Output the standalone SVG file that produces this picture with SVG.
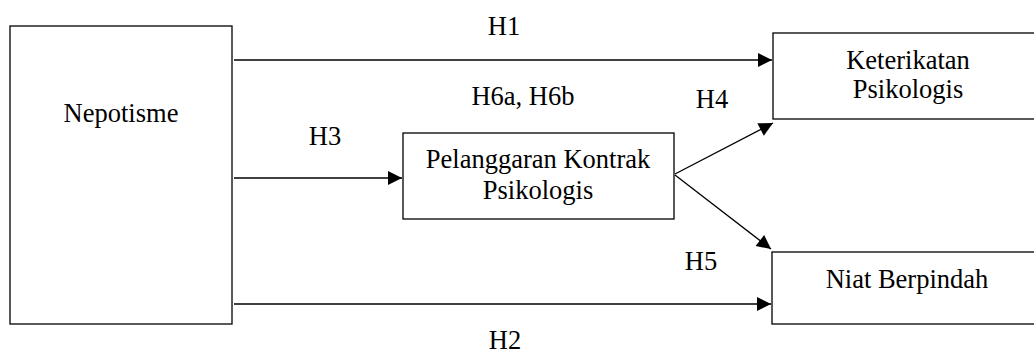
<svg xmlns="http://www.w3.org/2000/svg" width="1034" height="353" viewBox="0 0 1034 353">
<style>
.box{fill:#fff;stroke:#000;stroke-width:1.3}
.lbl{font-family:'Liberation Serif','Times New Roman',serif;font-size:26.5px;fill:#000;text-anchor:middle}
.edge{stroke:#000;stroke-width:1.3;fill:none}
</style>
<defs>
<marker id="arr" markerUnits="userSpaceOnUse" markerWidth="16" markerHeight="16" viewBox="0 0 16 16" refX="15" refY="8" orient="auto">
<path d="M1,1 L15,8 L1,15 Z" fill="#000"/>
</marker>
</defs>
<rect width="1034" height="353" fill="#fff"/>
<g id="nepotisme">
<rect class="box" x="10" y="26" width="222" height="298"/>
<text class="lbl" x="121" y="122">Nepotisme</text>
</g>
<g id="keterikatan">
<rect class="box" x="773" y="33" width="270" height="86"/>
<text class="lbl" x="908" y="69">Keterikatan</text>
<text class="lbl" x="908" y="98">Psikologis</text>
</g>
<g id="pelanggaran">
<rect class="box" x="403" y="133" width="271" height="86"/>
<text class="lbl" x="538" y="168">Pelanggaran Kontrak</text>
<text class="lbl" x="538" y="199">Psikologis</text>
</g>
<g id="niat">
<rect class="box" x="772" y="252" width="270" height="72"/>
<text class="lbl" x="907" y="288">Niat Berpindah</text>
</g>
<g id="connectors">
<line class="edge" x1="234" y1="60" x2="772" y2="60" marker-end="url(#arr)"/>
<line class="edge" x1="234" y1="178" x2="402" y2="178" marker-end="url(#arr)"/>
<line class="edge" x1="234" y1="304" x2="771" y2="304" marker-end="url(#arr)"/>
<line class="edge" x1="675" y1="174" x2="773" y2="123" marker-end="url(#arr)"/>
<line class="edge" x1="675" y1="175" x2="771" y2="249" marker-end="url(#arr)"/>
<text class="lbl" x="504" y="35">H1</text>
<text class="lbl" x="523" y="105">H6a, H6b</text>
<text class="lbl" x="712" y="108">H4</text>
<text class="lbl" x="325" y="145">H3</text>
<text class="lbl" x="701" y="270">H5</text>
<text class="lbl" x="505" y="349">H2</text>
</g>
</svg>
